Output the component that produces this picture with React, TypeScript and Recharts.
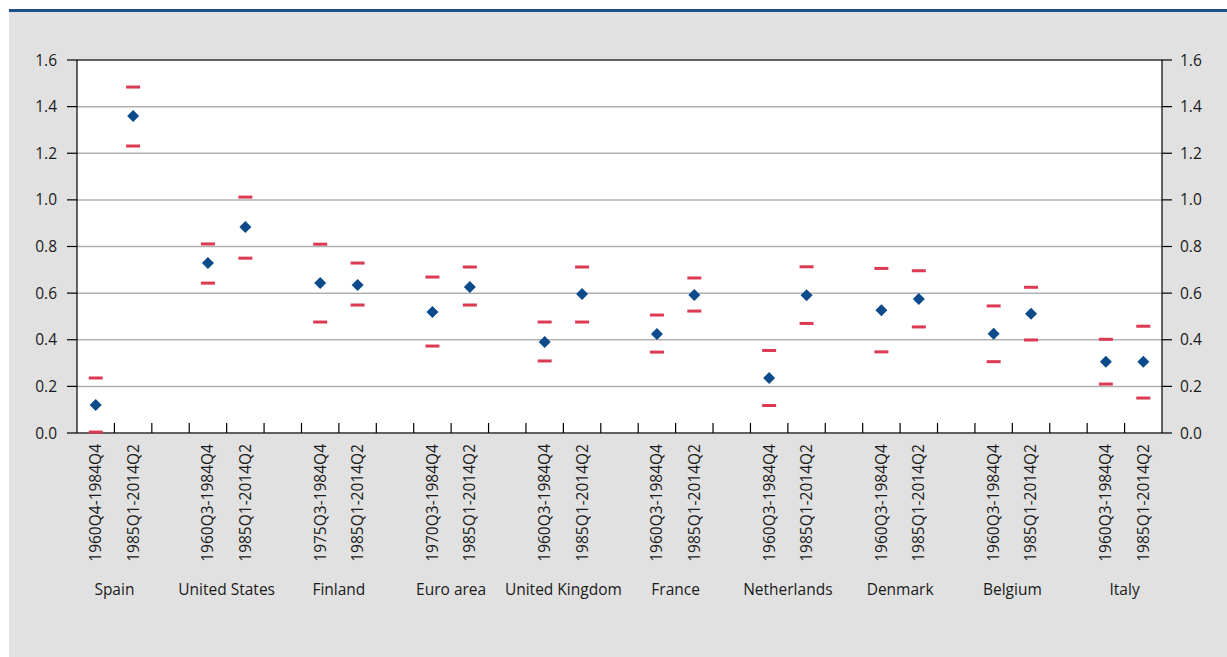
import React from 'react';
import {
  ComposedChart,
  Scatter,
  XAxis,
  YAxis,
  CartesianGrid,
  ReferenceLine,
} from 'recharts';

const groups = [
  'Spain',
  'United States',
  'Finland',
  'Euro area',
  'United Kingdom',
  'France',
  'Netherlands',
  'Denmark',
  'Belgium',
  'Italy',
];

const periods = [
  '1960Q4-1984Q4', '1985Q1-2014Q2',
  '1960Q3-1984Q4', '1985Q1-2014Q2',
  '1975Q3-1984Q4', '1985Q1-2014Q2',
  '1970Q3-1984Q4', '1985Q1-2014Q2',
  '1960Q3-1984Q4', '1985Q1-2014Q2',
  '1960Q3-1984Q4', '1985Q1-2014Q2',
  '1960Q3-1984Q4', '1985Q1-2014Q2',
  '1960Q3-1984Q4', '1985Q1-2014Q2',
  '1960Q3-1984Q4', '1985Q1-2014Q2',
  '1960Q3-1984Q4', '1985Q1-2014Q2',
];

const estimate = [
  0.12, 1.36, 0.729, 0.884, 0.643, 0.635, 0.519, 0.626, 0.39, 0.596,
  0.425, 0.592, 0.236, 0.591, 0.527, 0.575, 0.426, 0.512, 0.306, 0.306,
];
const upper = [
  0.236, 1.484, 0.811, 1.012, 0.81, 0.729, 0.669, 0.712, 0.476, 0.712,
  0.506, 0.665, 0.354, 0.713, 0.706, 0.696, 0.545, 0.625, 0.402, 0.458,
];
const lower = [
  0.004, 1.231, 0.643, 0.75, 0.476, 0.549, 0.373, 0.549, 0.309, 0.476,
  0.347, 0.523, 0.118, 0.47, 0.348, 0.455, 0.306, 0.399, 0.21, 0.15,
];

const yTicks = [0, 0.2, 0.4, 0.6, 0.8, 1.0, 1.2, 1.4, 1.6];

// 3 slots per country (two periods + a blank gap), last gap dropped
const slotCount = groups.length * 3 - 1;

const data = periods.map((p, i) => {
  const g = Math.floor(i / 2);
  const slot = g * 3 + (i % 2);
  return { x: slot + 0.5, period: p, mid: estimate[i], hi: upper[i], lo: lower[i] };
});

const xTicks = [
  ...Array.from({ length: slotCount + 1 }, (_, k) => k),
  ...data.map((d) => d.x),
].sort((a, b) => a - b);

const FONT = '"Open Sans", "Noto Sans", sans-serif';
const FS = 15.5;
const TEXT = '#1a1a1a';

function XTick(props: any) {
  const { x, y, payload } = props;
  const v: number = payload.value;
  if (Number.isInteger(v)) {
    const gi = (v - 1) / 3;
    return (
      <g>
        {v > 0 && v < slotCount && (
          <line x1={x} x2={x} y1={y} y2={y - 10} stroke="#000" strokeWidth={1.2} />
        )}
        {Number.isInteger(gi) && gi >= 0 && gi < groups.length && (
          <text x={x} y={y + 162} textAnchor="middle" fontSize={FS} fontFamily={FONT} fill={TEXT}>
            {groups[gi]}
          </text>
        )}
      </g>
    );
  }
  const row = data.find((d) => Math.abs(d.x - v) < 0.01);
  if (!row) return null;
  return (
    <text
      x={x}
      y={y + 11}
      dy="0.35em"
      transform={`rotate(-90, ${x}, ${y + 11})`}
      textAnchor="end"
      fontSize={FS}
      fontFamily={FONT}
      fill={TEXT}
    >
      {row.period}
    </text>
  );
}

const Diamond = (props: any) => {
  const { cx, cy } = props;
  const r = 6;
  return (
    <polygon
      points={`${cx},${cy - r} ${cx + r},${cy} ${cx},${cy + r} ${cx - r},${cy}`}
      fill="#0b4a8b"
    />
  );
};

const Dash = (props: any) => {
  const { cx, cy } = props;
  return <rect x={cx - 7} y={cy - 1.5} width={14} height={3} fill="#dc3a52" />;
};

export default function App() {
  return (
    <div
      style={{
        position: 'absolute',
        left: 9,
        top: 9,
        width: 1218,
        height: 648,
        boxSizing: 'border-box',
        borderTop: '3px solid #1d4f8f',
        background: '#e1e1e1',
      }}
    >
      <ComposedChart
        width={1218}
        height={645}
        data={data}
        margin={{ top: 48, right: 0, bottom: 0, left: 0 }}
      >
        <CartesianGrid
          yAxisId="left"
          horizontal
          vertical={false}
          stroke="#b0b0b0"
          strokeWidth={1.5}
          fill="#ffffff"
        />
        <ReferenceLine yAxisId="left" y={1.6} stroke="#000" strokeWidth={1.2} />
        <XAxis
          dataKey="x"
          type="number"
          domain={[0, slotCount]}
          ticks={xTicks}
          interval={0}
          height={224}
          tickSize={0}
          tickMargin={0}
          tickLine={false}
          axisLine={{ stroke: '#000', strokeWidth: 1.2 }}
          tick={<XTick />}
        />
        <YAxis
          yAxisId="left"
          type="number"
          domain={[0, 1.6]}
          ticks={yTicks}
          width={68}
          tickSize={10}
          tickMargin={10}
          tickFormatter={(v: number) => v.toFixed(1)}
          axisLine={{ stroke: '#000', strokeWidth: 1.2 }}
          tickLine={{ stroke: '#000', strokeWidth: 1.2 }}
          tick={{ fill: TEXT, fontSize: FS, fontFamily: FONT }}
        />
        <YAxis
          yAxisId="right"
          orientation="right"
          type="number"
          domain={[0, 1.6]}
          ticks={yTicks}
          width={65}
          tickSize={10}
          tickMargin={8}
          tickFormatter={(v: number) => v.toFixed(1)}
          axisLine={{ stroke: '#000', strokeWidth: 1.2 }}
          tickLine={{ stroke: '#000', strokeWidth: 1.2 }}
          tick={{ fill: TEXT, fontSize: FS, fontFamily: FONT }}
        />
        <Scatter yAxisId="left" dataKey="hi" shape={Dash} isAnimationActive={false} />
        <Scatter yAxisId="left" dataKey="lo" shape={Dash} isAnimationActive={false} />
        {/* same 0-1.6 domain on both sides; estimates hang off the right axis so it renders */}
        <Scatter yAxisId="right" dataKey="mid" shape={Diamond} isAnimationActive={false} />
      </ComposedChart>
    </div>
  );
}
